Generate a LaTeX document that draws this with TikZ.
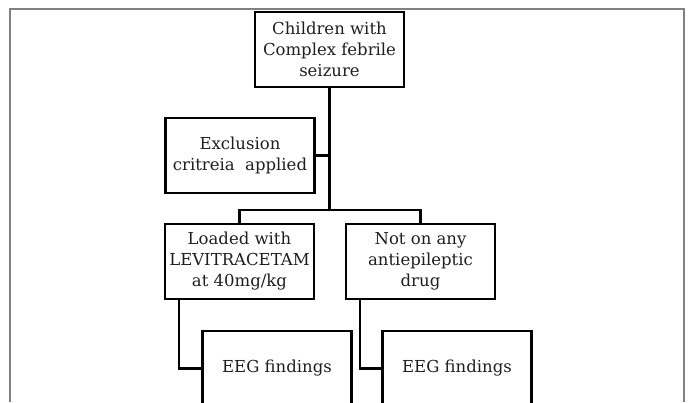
\documentclass[tikz,border=0pt]{standalone}
\usepackage{fontspec}
\setmainfont{DejaVu Serif}
\usepackage{tikz}
\usetikzlibrary{positioning}

\begin{document}
\begin{tikzpicture}[x=1pt,y=-1pt,
    box/.style={shape=rectangle,draw=black,line width=2.6pt,minimum width=149pt,minimum height=75pt,
        align=center,font=\fontsize{16.5}{21}\selectfont,text=black!88,inner sep=1pt},
    link/.style={line width=2.4pt}]
    \useasboundingbox (0,0) rectangle (688,402);
    \draw[gray,line width=1.5pt] (10,402) -- (10,9) -- (684,9) -- (684,402);
    \node[box] (top) at (329.5,49.5) {Children with\\Complex febrile\\seizure};
    \node[box] (excl) at (240,155.5) {Exclusion\\critreia\ \ applied};
    \node[box] (loaded) at (239.5,261.5) {Loaded with\\LEVITRACETAM\\at 40mg/kg};
    \node[box] (noaed) at (420.5,261.5) {Not on any\\antiepileptic\\drug};
    \node[box] (eegA) at (277,368.5) {EEG findings};
    \node[box] (eegB) at (457,368.5) {EEG findings};
    \coordinate (fork) at (329.5,210);
    \draw[link] (top) -- (fork);
    \draw[link] (excl.east) -- (excl.east -| fork);
    \draw[link] (loaded.north) |- (fork) -| (noaed.north);
    \draw[link] ([xshift=15pt]loaded.south west) |- (eegA.west);
    \draw[link] ([xshift=15pt]noaed.south west) |- (eegB.west);
\end{tikzpicture}
\end{document}
